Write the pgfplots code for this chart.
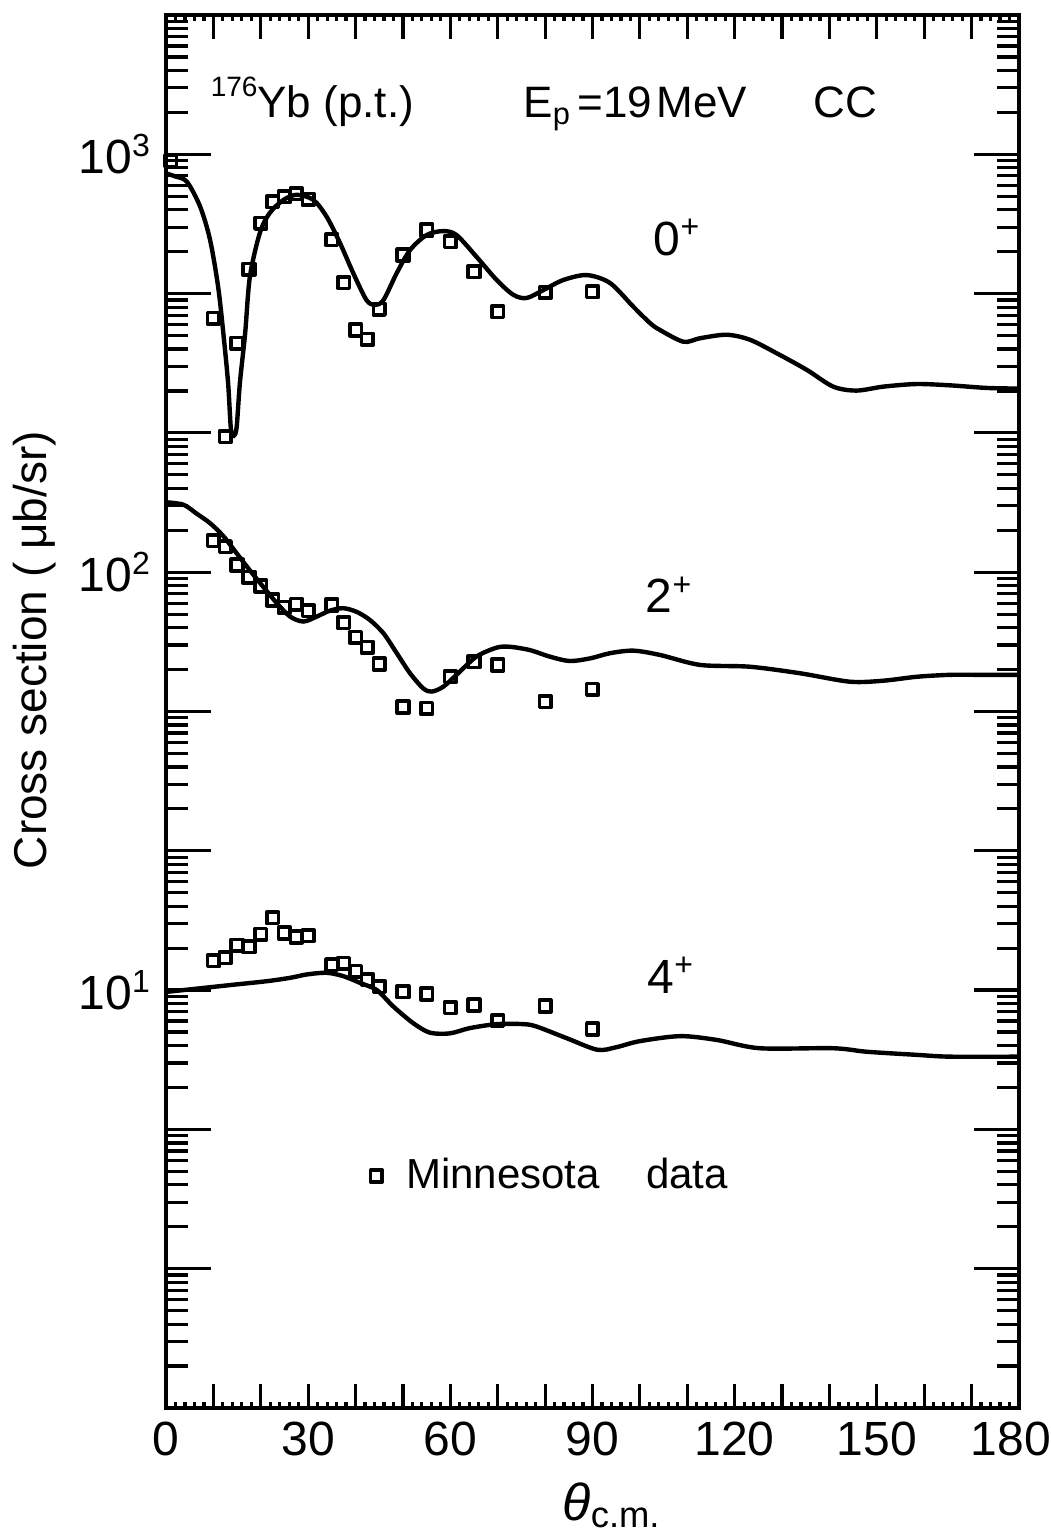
\documentclass[border=0pt]{standalone}
\usepackage{fontspec}
\setmainfont{Liberation Sans}
\usepackage{pgfplots}
\pgfplotsset{compat=1.18}

% the paper has three log cycles for every labelled decade
\def\minorlist{1}
\foreach \k in {0,...,9}{%
  \foreach \n in {2,...,9}{%
    \pgfmathsetmacro\v{10^((\k+log10(\n))/3)}%
    \xdef\minorlist{\minorlist,\v}%
  }%
}

\pgfplotsset{
  frame/.style={scale only axis, width=213.25pt, height=348.25pt,
    xmin=0, xmax=180,
    axis line style={line width=1.1pt},
    tick style={black, line width=0.8pt}},
  curve/.style={black, line width=1.1pt, smooth, no markers, forget plot},
  pts/.style={only marks, mark=square, mark size=1.45pt,
    mark options={black, line width=0.9pt, line join=round}},
  dotleg/.style={legend image code/.code={\draw[##1] plot coordinates {(0pt,0pt)};}},
}
\newcommand\lab{\fontsize{10.5}{12}\selectfont}
\newcommand\hlab{\fontsize{11}{13}\selectfont}
\newcommand\tlab{\fontsize{12}{14}\selectfont}

\begin{document}
\begin{tikzpicture}
\begin{axis}[frame, name=ax,
  ymode=log, ymin=1, ymax=2154.43,
  xtick=\empty,
  ytick={1,2.15443,4.64159,10,21.5443,46.4159,100,215.443,464.159,1000,2154.43},
  yticklabels={,,,10\textsuperscript{1},,,10\textsuperscript{2},,,10\textsuperscript{3},},
  minor ytick/.expanded={\minorlist},
  major tick length=11.25pt, minor tick length=5.5pt,
  yticklabel style={font=\tlab},
  ylabel={Cross section ( μb/sr)},
  ylabel style={font=\fontsize{11.5}{14}\selectfont,
    at={(axis description cs:-0.1536,0.544)}, anchor=center},
  legend style={draw=none, fill=none, font=\lab,
    at={(axis description cs:0.239,0.1665)}, anchor=west, inner sep=0pt},
]
% calculated curves
\addplot[curve] coordinates {
  (0,900) (2,885) (4.4,860) (7.2,750) (9.3,624) (11.0,482) (12.1,373)
  (13.1,284) (13.7,220) (14.3,212) (14.9,222) (15.6,284) (16.7,373)
  (17.7,509) (19.8,648) (21.9,724) (24.8,778) (27.6,800) (31.1,778)
  (33.9,709) (36.7,614) (39.5,520) (42.3,448) (44.1,436) (45.9,448)
  (48.7,520) (51.5,590) (55.0,641) (58.5,655) (61.3,641) (65.5,569)
  (69.8,500) (73.3,461) (76.1,453) (79.6,473) (83.8,500) (88.8,514)
  (93.7,492) (98.6,432) (102.1,395) (104.2,380) (109.2,356) (112.7,363)
  (118.3,370) (123.2,360) (128.9,334) (135.2,305) (140.8,278) (145.7,272)
  (151.4,278) (158.4,282) (165.4,280) (173.2,276) (180,275)
};
\addplot[curve] coordinates {
  (0,147) (3.7,145) (6.5,138) (9.3,131) (12.1,122) (14.9,111) (17.7,101)
  (20.5,92.3) (23.4,84.3) (26.2,78.3) (29.0,76.2) (31.8,78.3) (34.6,80.9)
  (37.4,82.0) (40.2,80.4) (43.0,76.9) (45.9,71.4) (48.7,64.0) (51.5,57.3)
  (54.3,52.7) (56.1,51.8) (58.5,53.2) (61.3,56.8) (65.5,62.8) (69.8,66.0)
  (72.6,66.3) (76.8,65.1) (81.0,62.8) (85.2,61.3) (89.5,62.2) (93.7,64.0)
  (98.6,64.9) (104.2,63.4) (112.7,60.0) (123.2,59.4) (133.8,57.3)
  (144.3,54.7) (151.4,55.0) (158.4,56.2) (165.4,56.8) (172.5,56.8) (180,56.8)
};
\addplot[curve] coordinates {
  (0,9.9) (7.2,10.1) (14.2,10.3) (21.2,10.5) (26.2,10.7) (29.7,10.9)
  (33.9,11.0) (37.4,10.8) (41.0,10.4) (44.5,10.0) (48.0,9.13) (52.2,8.33)
  (55.7,7.91) (59.9,7.88) (64.1,8.11) (69.8,8.29) (75.4,8.29) (78.2,8.18)
  (84.6,7.67) (91,7.2) (95,7.3) (100,7.55) (108.5,7.76) (116.2,7.60)
  (125.3,7.26) (140.8,7.26) (147.9,7.12) (158.4,7.0) (165.4,6.93) (180,6.93)
};
% Minnesota data
\addplot[pts, dotleg] coordinates {
  (1,965) (10,405) (12.5,211) (15,353) (17.5,531) (20,684) (22.5,770)
  (25,792) (27.5,804) (30,780) (35,624) (37.5,493) (40,380) (42.5,361)
  (45,426) (50,574) (55,659) (60,618) (65,524) (70,420) (80,467) (90,469)
};
\addlegendentry{\hspace{4pt}Minnesota\hspace{1.1em}data}
\addplot[pts, forget plot] coordinates {
  (10,119) (12.5,115) (15,104) (17.5,97.2) (20,92.7) (22.5,85.8) (25,82.4)
  (27.5,83.8) (30,80.8) (35,83.5) (37.5,75.7) (40,69.8) (42.5,66.1)
  (45,60.3) (50,47.6) (55,47.2) (60,56.2) (65,61.1) (70,60.0) (80,49.0)
  (90,52.4)
};
\addplot[pts, forget plot] coordinates {
  (10,11.75) (12.5,11.96) (15,12.8) (17.5,12.7) (20,13.6) (22.5,14.9)
  (25,13.7) (27.5,13.4) (30,13.5) (35,11.5) (37.5,11.6) (40,11.1)
  (42.5,10.6) (45,10.2) (50,9.91) (55,9.79) (60,9.08) (65,9.21) (70,8.45)
  (80,9.16) (90,8.07)
};
\node[anchor=base west, inner sep=0pt, font=\hlab] at (axis cs:9.28,1222)
  {\raisebox{0.9ex}{\fontsize{7}{8}\selectfont 176}Yb (p.t.)};
\node[anchor=base west, inner sep=0pt, font=\hlab] at (axis cs:75.3,1222)
  {E\textsubscript{p}\hspace{0.12em}=19\hspace{0.1em}MeV};
\node[anchor=base west, inner sep=0pt, font=\hlab] at (axis cs:136.5,1222) {CC};
\node[anchor=base west, inner sep=0pt, font=\tlab] at (axis cs:102.8,574)
  {0\textsuperscript{+}};
\node[anchor=base west, inner sep=0pt, font=\tlab] at (axis cs:101.1,79.9)
  {2\textsuperscript{+}};
\node[anchor=base west, inner sep=0pt, font=\tlab] at (axis cs:101.5,9.84)
  {4\textsuperscript{+}};
\end{axis}
% second frame for the angle ticks, which are shorter
\begin{axis}[frame,
  ymin=0, ymax=1, ytick=\empty,
  xtick={0,10,...,180},
  xticklabels={0,,,30,,,60,,,90,,,120,,,150,,,\hspace*{-4pt}180},
  minor x tick num=4,
  major tick length=6pt, minor tick length=1.4pt,
  xticklabel style={font=\tlab},
  xlabel={\itshape θ\upshape\textsubscript{c.m.}},
  xlabel style={font=\fontsize{13}{14}\selectfont,
    at={(axis description cs:0.523,0)}, anchor=base, yshift=-28pt},
]
\end{axis}
\pgfresetboundingbox
\useasboundingbox ([xshift=-41.5pt,yshift=-32.5pt]ax.south west)
  rectangle ([xshift=8pt,yshift=3.75pt]ax.north east);
\end{tikzpicture}
\end{document}
